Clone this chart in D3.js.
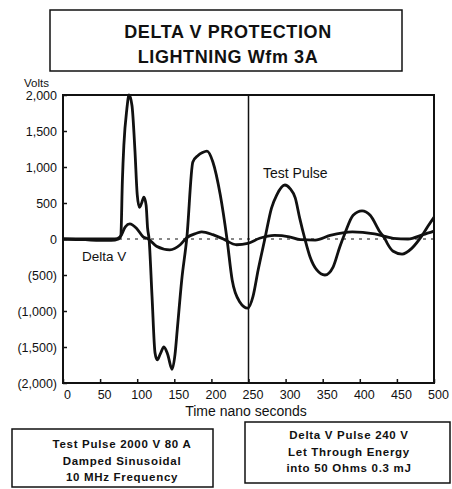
<!DOCTYPE html>
<html>
<head>
<meta charset="utf-8">
<script src="https://cdn.jsdelivr.net/npm/d3@7"></script>
<style>
  body { margin: 0; background: #fff; }
  svg { display: block; font-family: "Liberation Sans", Arial, sans-serif; }
  .axis text { font-size: 12.5px; fill: #111; }
  .axis line { stroke: #111; stroke-width: 1.5; }
</style>
</head>
<body>
<svg id="chart" width="452" height="489"></svg>
<script>
// data
var titleLines = ["DELTA V PROTECTION", "LIGHTNING Wfm 3A"];
var xTicks = [0, 50, 100, 150, 200, 250, 300, 350, 400, 450, 500];
var yTicks = [-2000, -1500, -1000, -500, 0, 500, 1000, 1500, 2000];
var yTickLabels = ["(2,000)", "(1,500)", "(1,000)", "(500)", "0", "500", "1,000", "1,500", "2,000"];

// test pulse: [time ns, volts]
var testPulse = [
  [0,0],[30,-10],[50,-20],[65,-20],[75,0],[78,50],[80,800],[82,1300],[86,1800],[89,2000],
  [93,1850],[97,1220],[100,620],[103,440],[106,500],[109,580],[112,470],[114,150],[116,0],
  [120,-800],[124,-1580],[127,-1680],[131,-1600],[136,-1500],[141,-1600],[147,-1810],[151,-1600],
  [154,-1260],[160,-570],[167,30],[175,1070],[182,1160],[188,1200],[194,1220],[202,1070],
  [212,610],[221,0],[228,-570],[238,-870],[249,-960],[256,-800],[263,-430],[272,0],[281,430],
  [288,610],[299,750],[306,700],[313,570],[319,290],[326,0],[333,-250],[342,-430],[353,-500],
  [364,-390],[373,-110],[380,80],[391,330],[403,390],[414,330],[427,100],[434,0],[437,-60],
  [445,-170],[457,-210],[470,-130],[484,50],[492,180],[500,300]
];
// delta V let-through: [time ns, volts]
var deltaV = [
  [0,0],[70,0],[77,30],[84,170],[90,210],[99,150],[108,30],[115,0],[126,-100],[144,-150],
  [158,-80],[167,20],[180,80],[187,100],[202,60],[216,0],[234,-80],[249,-60],[265,10],[285,50],
  [305,30],[320,-10],[340,-15],[360,50],[390,100],[420,70],[445,10],[465,0],[485,60],[500,110]
];
var leftNote = ["Test Pulse 2000 V 80 A", "Damped Sinusoidal", "10 MHz Frequency"];
var rightNote = ["Delta V Pulse 240 V", "Let Through Energy", "into 50 Ohms 0.3 mJ"];

var svg = d3.select("#chart");

var x = d3.scaleLinear().domain([0, 500]).range([63, 434]);
var y = d3.scaleLinear().domain([-2000, 2000]).range([383, 95]);

// title box
svg.append("rect").attr("x", 50).attr("y", 10).attr("width", 352).attr("height", 61)
  .attr("fill", "none").attr("stroke", "#111").attr("stroke-width", 1.5);
svg.selectAll(".title").data(titleLines).enter().append("text")
  .attr("x", 228).attr("y", (d, i) => 38 + i * 25)
  .attr("text-anchor", "middle")
  .style("font-size", "18px").style("font-weight", "bold").style("letter-spacing", "0.6px")
  .style("fill", "#111")
  .text(d => d);

// axes
var yAxis = d3.axisLeft(y).tickValues(yTicks)
  .tickFormat((d, i) => yTickLabels[i]).tickSize(-4).tickPadding(6);
svg.append("g").attr("class", "axis").attr("transform", "translate(" + x(0) + ",0)")
  .call(yAxis).call(g => g.select(".domain").remove());

var xAxis = d3.axisBottom(x).tickValues(xTicks).tickSize(-4).tickPadding(7);
svg.append("g").attr("class", "axis").attr("transform", "translate(0," + y(-2000) + ")")
  .call(xAxis).call(g => g.select(".domain").remove())
  .selectAll("text").attr("dx", 4);

svg.append("text").attr("x", 24).attr("y", 87).style("font-size", "11.5px").style("fill", "#111").text("Volts");
svg.append("text").attr("x", 246).attr("y", 416).attr("text-anchor", "middle")
  .style("font-size", "14px").style("fill", "#111").text("Time nano seconds");

// zero line and 250 ns marker
svg.append("line").attr("x1", x(0)).attr("x2", x(500)).attr("y1", y(0)).attr("y2", y(0))
  .attr("stroke", "#111").attr("stroke-width", 1.2).attr("stroke-dasharray", "3,5");
svg.append("line").attr("x1", x(250)).attr("x2", x(250)).attr("y1", y(2000)).attr("y2", y(-2000))
  .attr("stroke", "#111").attr("stroke-width", 1.5);

var line = d3.line().x(d => x(d[0])).y(d => y(d[1])).curve(d3.curveMonotoneX);
svg.append("path").datum(deltaV).attr("d", line)
  .attr("fill", "none").attr("stroke", "#111").attr("stroke-width", 2.8);
svg.append("path").datum(testPulse).attr("d", line)
  .attr("fill", "none").attr("stroke", "#111").attr("stroke-width", 2.8).attr("stroke-linejoin", "round");

// frame
svg.append("rect").attr("x", x(0)).attr("y", y(2000))
  .attr("width", x(500) - x(0)).attr("height", y(-2000) - y(2000))
  .attr("fill", "none").attr("stroke", "#111").attr("stroke-width", 2);

// series labels
svg.append("text").attr("x", 263).attr("y", 178).style("font-size", "14px").style("fill", "#111").text("Test Pulse");
svg.append("text").attr("x", 82).attr("y", 261).style("font-size", "13.5px").style("fill", "#111").text("Delta V");

// note boxes
function noteBox(lines, bx, by, bw, bh, tx, ty) {
  svg.append("rect").attr("x", bx).attr("y", by).attr("width", bw).attr("height", bh)
    .attr("fill", "none").attr("stroke", "#111").attr("stroke-width", 1.5);
  svg.selectAll(null).data(lines).enter().append("text")
    .attr("x", tx).attr("y", (d, i) => ty + i * 16.5)
    .attr("text-anchor", "middle").style("font-size", "11.5px").style("font-weight", "bold")
    .style("letter-spacing", "0.7px").style("fill", "#111")
    .text(d => d);
}
noteBox(leftNote, 12, 429, 201, 58, 122, 448);
noteBox(rightNote, 245, 422, 205, 61, 349, 439);
</script>
</body>
</html>
